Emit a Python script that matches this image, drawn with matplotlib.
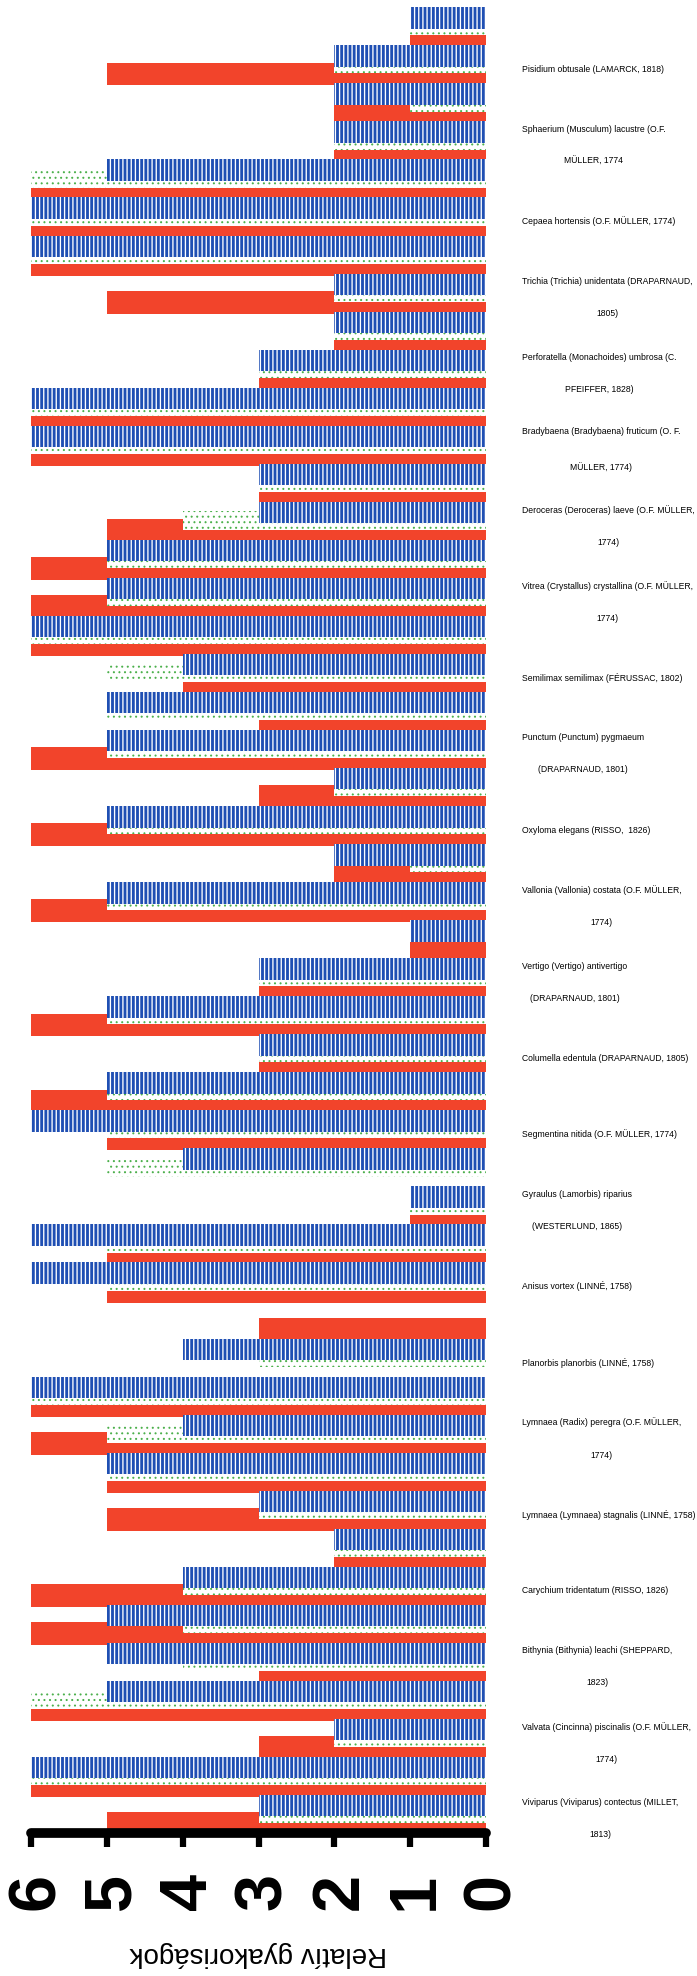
import matplotlib
matplotlib.use('Agg')
import matplotlib.pyplot as plt
import matplotlib.transforms as mtransforms
import numpy as np

plt.rcParams['font.family'] = ['Liberation Sans', 'DejaVu Sans']
plt.rcParams['hatch.linewidth'] = 0.95

# relative frequencies, three samples per row, rows listed top to bottom
blue = [1, 2, 2, 2, 5, 6, 6, 2, 2, 3, 6, 6, 3, 3, 5, 5, 6, 4, 5, 5, 2, 5, 2, 5,
        1, 3, 5, 3, 5, 6, 4, 1, 6, 6, 0, 4, 6, 4, 5, 3, 2, 4, 5, 5, 5, 2, 6, 3]
green = [1, 2, 1, 2, 6, 6, 6, 2, 2, 3, 6, 6, 3, 4, 5, 5, 6, 5, 5, 5, 2, 5, 1, 5,
         0, 3, 5, 3, 5, 5, 5, 1, 5, 5, 0, 3, 6, 5, 5, 3, 2, 4, 4, 4, 6, 2, 6, 3]
red = [1, 5, 2, 2, 6, 6, 6, 5, 2, 3, 6, 6, 3, 5, 6, 6, 6, 4, 3, 6, 3, 6, 2, 6,
       1, 3, 6, 3, 6, 5, 0, 1, 5, 5, 3, 0, 6, 6, 5, 5, 2, 6, 6, 3, 6, 3, 6, 5]

# only every second row carries a name
species = [
    "Pisidium obtusale (LAMARCK, 1818)",
    "Sphaerium (Musculum) lacustre (O.F.\nMÜLLER, 1774",
    "Cepaea hortensis (O.F. MÜLLER, 1774)",
    "Trichia (Trichia) unidentata (DRAPARNAUD,\n1805)",
    "Perforatella (Monachoides) umbrosa (C.\nPFEIFFER, 1828)",
    "Bradybaena (Bradybaena) fruticum (O. F.\nMÜLLER, 1774)",
    "Deroceras (Deroceras) laeve (O.F. MÜLLER,\n1774)",
    "Vitrea (Crystallus) crystallina (O.F. MÜLLER,\n1774)",
    "Semilimax semilimax (FÉRUSSAC, 1802)",
    "Punctum (Punctum) pygmaeum\n(DRAPARNAUD, 1801)",
    "Oxyloma elegans (RISSO,  1826)",
    "Vallonia (Vallonia) costata (O.F. MÜLLER,\n1774)",
    "Vertigo (Vertigo) antivertigo\n(DRAPARNAUD, 1801)",
    "Columella edentula (DRAPARNAUD, 1805)",
    "Segmentina nitida (O.F. MÜLLER, 1774)",
    "Gyraulus (Lamorbis) riparius\n(WESTERLUND, 1865)",
    "Anisus vortex (LINNÉ, 1758)",
    "Planorbis planorbis (LINNÉ, 1758)",
    "Lymnaea (Radix) peregra (O.F. MÜLLER,\n1774)",
    "Lymnaea (Lymnaea) stagnalis (LINNÉ, 1758)",
    "Carychium tridentatum (RISSO, 1826)",
    "Bithynia (Bithynia) leachi (SHEPPARD,\n1823)",
    "Valvata (Cincinna) piscinalis (O.F. MÜLLER,\n1774)",
    "Viviparus (Viviparus) contectus (MILLET,\n1813)",
]
ticks = [0, 1, 2, 3, 4, 5, 6]

BLUE = '#1f4fb3'
RED = '#f2442b'
GREEN = '#4cb04c'

W, H = 697, 1976
fig = plt.figure(figsize=(W / 100, H / 100), dpi=100)
fig.patch.set_facecolor('white')
ax = fig.add_axes([31 / W, 1 - 1833 / H, 455 / W, 1833 / H])

pos = np.arange(len(blue))

# overlapping bars: red at the back, dotted green over it, striped blue on top
ax.barh(pos + 0.755, red, height=0.6, color=RED, linewidth=0, zorder=1)
dots = ax.barh(pos + 0.49, green, height=0.5, color='white', edgecolor=GREEN,
               hatch='...', linewidth=0, zorder=2)
ax.barh(pos + 0.2825, blue, height=0.565, color=BLUE, edgecolor='white',
        hatch='||||', linewidth=0, zorder=3)
for p in dots:
    if hasattr(p, 'set_hatch_linewidth'):
        p.set_hatch_linewidth(0.7)

ax.set_xlim(6, 0)
ax.set_ylim(48.0, -0.192)

for k, name in enumerate(species):
    ax.annotate(name, xy=(0, 2 * k + 1 + 0.63), xycoords='data',
                xytext=(26, 0), textcoords='offset points',
                ha='left', va='center', multialignment='center',
                fontsize=6.2, linespacing=4.3, annotation_clip=False)

for side in ['left', 'right', 'top']:
    ax.spines[side].set_visible(False)
ax.spines['bottom'].set_linewidth(7)
ax.spines['bottom'].set_capstyle('round')
ax.spines['bottom'].set_zorder(5)

ax.set_yticks([])
ax.set_xticks(ticks)
ax.set_xticklabels([str(t) for t in ticks], rotation=90,
                   fontsize=48, fontweight='bold')
ax.tick_params(axis='x', length=10, width=4.5, direction='out', pad=19)
shift = mtransforms.ScaledTranslation(6 / 100, 0, fig.dpi_scale_trans)
for lab in ax.get_xticklabels():
    lab.set_transform(lab.get_transform() + shift)

ax.set_xlabel('Relatív gyakoriságok', rotation=180, fontsize=20, labelpad=22)

fig.savefig('out.png', dpi=100, facecolor='white')
